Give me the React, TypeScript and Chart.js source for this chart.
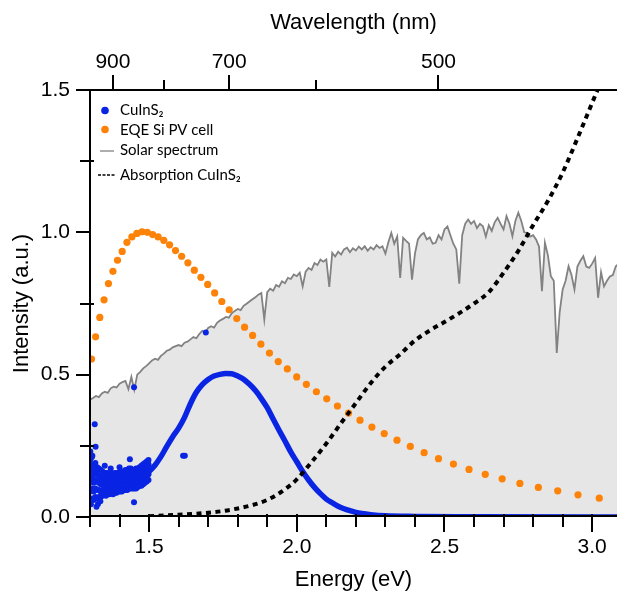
import React, { useEffect, useRef } from 'react';
import { Chart, registerables } from 'chart.js';

Chart.register(...registerables);

// ---------------- data ----------------
const HC = 1239.84; // eV·nm, energy <-> wavelength

// Solar spectrum [energy eV, intensity]
const solarSpectrum: [number, number][] = [
  [1.30, 0.412], [1.31, 0.418], [1.32, 0.425], [1.33, 0.421], [1.34, 0.434], [1.35, 0.440], [1.36, 0.436], [1.37, 0.452],
  [1.38, 0.458], [1.39, 0.455], [1.40, 0.468], [1.41, 0.474], [1.42, 0.478], [1.43, 0.449], [1.44, 0.492], [1.45, 0.447],
  [1.46, 0.500], [1.47, 0.510], [1.48, 0.522], [1.49, 0.530], [1.50, 0.540], [1.51, 0.550], [1.52, 0.556], [1.53, 0.552],
  [1.54, 0.566], [1.55, 0.574], [1.56, 0.584], [1.57, 0.588], [1.58, 0.596], [1.59, 0.600], [1.60, 0.604], [1.61, 0.600],
  [1.62, 0.612], [1.63, 0.616], [1.64, 0.624], [1.65, 0.632], [1.66, 0.628], [1.67, 0.643], [1.68, 0.654], [1.69, 0.648],
  [1.70, 0.664], [1.71, 0.670], [1.72, 0.665], [1.73, 0.682], [1.74, 0.690], [1.75, 0.696], [1.76, 0.703], [1.77, 0.700],
  [1.78, 0.716], [1.79, 0.724], [1.80, 0.731], [1.81, 0.727], [1.82, 0.742], [1.83, 0.749], [1.84, 0.757], [1.85, 0.765],
  [1.86, 0.772], [1.87, 0.781], [1.88, 0.787], [1.89, 0.694], [1.90, 0.790], [1.91, 0.802], [1.92, 0.795], [1.93, 0.815],
  [1.94, 0.809], [1.95, 0.828], [1.96, 0.821], [1.97, 0.840], [1.98, 0.836], [1.99, 0.852], [2.00, 0.846], [2.01, 0.858],
  [2.02, 0.810], [2.03, 0.862], [2.04, 0.875], [2.05, 0.868], [2.06, 0.892], [2.07, 0.885], [2.08, 0.904], [2.09, 0.897],
  [2.10, 0.905], [2.11, 0.808], [2.12, 0.928], [2.13, 0.915], [2.14, 0.932], [2.15, 0.922], [2.16, 0.940], [2.17, 0.946],
  [2.18, 0.930], [2.19, 0.944], [2.20, 0.936], [2.21, 0.950], [2.22, 0.940], [2.23, 0.951], [2.24, 0.935], [2.25, 0.948],
  [2.26, 0.940], [2.27, 0.955], [2.28, 0.945], [2.29, 0.951], [2.30, 0.925], [2.31, 0.965], [2.32, 0.998], [2.33, 0.960],
  [2.34, 0.985], [2.35, 0.840], [2.36, 0.981], [2.37, 0.970], [2.38, 0.960], [2.39, 0.834], [2.40, 0.925], [2.41, 0.975],
  [2.42, 0.990], [2.43, 0.998], [2.44, 0.975], [2.45, 0.982], [2.46, 0.960], [2.47, 0.963], [2.48, 0.990], [2.49, 0.975],
  [2.50, 1.010], [2.51, 1.021], [2.52, 0.990], [2.53, 0.960], [2.54, 0.940], [2.55, 0.820], [2.56, 0.990], [2.57, 1.030],
  [2.58, 1.045], [2.59, 1.030], [2.60, 1.040], [2.61, 1.015], [2.62, 1.030], [2.63, 1.021], [2.64, 0.985], [2.65, 1.025],
  [2.66, 1.005], [2.67, 1.035], [2.68, 1.051], [2.69, 1.030], [2.70, 1.010], [2.71, 1.057], [2.72, 1.030], [2.73, 0.986],
  [2.74, 1.040], [2.75, 1.069], [2.76, 1.040], [2.77, 1.000], [2.78, 0.998], [2.79, 0.985], [2.80, 0.990], [2.81, 0.975],
  [2.82, 0.950], [2.83, 0.793], [2.84, 0.963], [2.85, 0.920], [2.86, 0.846], [2.87, 0.830], [2.88, 0.576], [2.89, 0.720],
  [2.90, 0.799], [2.91, 0.830], [2.92, 0.881], [2.93, 0.850], [2.94, 0.799], [2.95, 0.880], [2.96, 0.900], [2.97, 0.916],
  [2.98, 0.880], [2.99, 0.875], [3.00, 0.890], [3.01, 0.910], [3.02, 0.770], [3.03, 0.860], [3.04, 0.810], [3.05, 0.830],
  [3.06, 0.845], [3.07, 0.850], [3.08, 0.881], [3.09, 0.890],
];

// CuInS2 photoluminescence, dense main band [energy eV, intensity]
const cuinsCurve: [number, number][] = [
  [1.48, 0.142], [1.50, 0.160], [1.52, 0.182], [1.54, 0.212], [1.56, 0.248], [1.58, 0.282],
  [1.60, 0.312], [1.62, 0.350], [1.64, 0.398], [1.66, 0.438], [1.68, 0.465], [1.70, 0.483], [1.72, 0.495], [1.74, 0.501],
  [1.76, 0.504], [1.78, 0.503], [1.80, 0.495], [1.82, 0.484], [1.84, 0.466], [1.86, 0.444], [1.88, 0.416], [1.90, 0.384],
  [1.92, 0.344], [1.94, 0.305], [1.96, 0.267], [1.98, 0.228], [2.00, 0.194], [2.02, 0.160], [2.04, 0.130], [2.06, 0.104],
  [2.08, 0.082], [2.10, 0.063], [2.12, 0.050], [2.14, 0.038], [2.16, 0.029], [2.18, 0.022], [2.20, 0.016], [2.22, 0.012],
  [2.25, 0.008], [2.30, 0.004], [2.40, 0.002], [2.60, 0.001], [3.09, 0.000],
];

// CuInS2 noisy low-energy band: energy columns and the intensities measured in each
const cuinsNoiseEnergy = [
  1.300, 1.306, 1.312, 1.318, 1.324, 1.330, 1.336, 1.342, 1.348, 1.354, 1.360, 1.366, 1.372, 1.378, 1.384, 1.390, 1.396,
  1.402, 1.408, 1.414, 1.420, 1.426, 1.432, 1.438, 1.444, 1.450, 1.456, 1.462, 1.468, 1.474, 1.480, 1.486, 1.492, 1.498,
];
const cuinsNoiseValue: number[][] = [
  [0.055, 0.09, 0.125, 0.16, 0.20], [0.065, 0.10, 0.135, 0.17, 0.21], [0.06, 0.09, 0.12, 0.15, 0.185],
  [0.07, 0.10, 0.13, 0.16, 0.19], [0.065, 0.095, 0.125, 0.15, 0.175], [0.07, 0.095, 0.12, 0.145, 0.17],
  [0.07, 0.09, 0.115, 0.14, 0.165], [0.075, 0.095, 0.12, 0.14, 0.16], [0.08, 0.10, 0.12, 0.14, 0.155],
  [0.075, 0.095, 0.115, 0.135, 0.155], [0.08, 0.10, 0.12, 0.14, 0.155], [0.08, 0.10, 0.12, 0.135, 0.15],
  [0.085, 0.105, 0.12, 0.14, 0.155], [0.08, 0.10, 0.12, 0.135, 0.15], [0.085, 0.105, 0.12, 0.14, 0.155],
  [0.085, 0.10, 0.12, 0.14, 0.155], [0.09, 0.105, 0.125, 0.14, 0.155], [0.09, 0.11, 0.125, 0.14, 0.16],
  [0.09, 0.11, 0.13, 0.145, 0.16], [0.095, 0.11, 0.13, 0.145, 0.16], [0.095, 0.115, 0.13, 0.15, 0.165],
  [0.095, 0.115, 0.13, 0.15, 0.165], [0.10, 0.115, 0.135, 0.15, 0.17], [0.10, 0.12, 0.135, 0.155, 0.17],
  [0.10, 0.115, 0.13, 0.15, 0.165], [0.10, 0.115, 0.13, 0.15, 0.165], [0.10, 0.12, 0.135, 0.15, 0.17],
  [0.105, 0.12, 0.14, 0.155, 0.17], [0.11, 0.125, 0.14, 0.16, 0.175], [0.11, 0.13, 0.145, 0.16, 0.18],
  [0.115, 0.13, 0.15, 0.165, 0.185], [0.12, 0.135, 0.155, 0.17, 0.19], [0.125, 0.14, 0.16, 0.175, 0.195],
  [0.13, 0.15, 0.165, 0.185, 0.20],
];

// CuInS2 isolated outlier points [energy eV, intensity]
const cuinsOutliers: [number, number][] = [
  [1.301, 0.23], [1.303, 0.045], [1.308, 0.215], [1.316, 0.326], [1.319, 0.247], [1.322, 0.036], [1.327, 0.046],
  [1.335, 0.055], [1.350, 0.18], [1.370, 0.17], [1.400, 0.175], [1.435, 0.203], [1.449, 0.052], [1.449, 0.456],
  [1.615, 0.215], [1.621, 0.215], [1.692, 0.648],
];

// EQE of Si PV cell, sampled every 10 nm
const eqeWavelength = [
  950, 940, 930, 920, 910, 900, 890, 880, 870, 860, 850, 840, 830, 820, 810, 800, 790, 780, 770, 760,
  750, 740, 730, 720, 710, 700, 690, 680, 670, 660, 650, 640, 630, 620, 610, 600, 590, 580, 570, 560,
  550, 540, 530, 520, 510, 500, 490, 480, 470, 460, 450, 440, 430, 420, 410,
];
const eqeValue = [
  0.555, 0.633, 0.701, 0.763, 0.820, 0.863, 0.902, 0.933, 0.965, 0.984, 0.996, 1.002, 1.000, 0.992, 0.984, 0.972, 0.956, 0.936, 0.916, 0.893,
  0.867, 0.842, 0.817, 0.787, 0.757, 0.728, 0.697, 0.667, 0.638, 0.607, 0.576, 0.546, 0.520, 0.492, 0.466, 0.440, 0.415, 0.390, 0.365, 0.340,
  0.316, 0.293, 0.270, 0.248, 0.226, 0.205, 0.186, 0.167, 0.150, 0.134, 0.118, 0.104, 0.092, 0.078, 0.066,
];

// Absorption of CuInS2 [energy eV, absorbance]
const absorption: [number, number][] = [
  [1.50, 0.003], [1.55, 0.005], [1.60, 0.008], [1.65, 0.011], [1.70, 0.015], [1.75, 0.021], [1.80, 0.030], [1.85, 0.042],
  [1.90, 0.060], [1.95, 0.090], [2.00, 0.132], [2.05, 0.193], [2.10, 0.258], [2.15, 0.330], [2.20, 0.400], [2.25, 0.470],
  [2.30, 0.528], [2.35, 0.572], [2.40, 0.620], [2.45, 0.655], [2.50, 0.685], [2.55, 0.716], [2.60, 0.750], [2.65, 0.790],
  [2.70, 0.858], [2.75, 0.935], [2.80, 1.025], [2.85, 1.110], [2.90, 1.210], [2.95, 1.330], [3.00, 1.455], [3.05, 1.580],
];

// axes
const energyRange = [1.3, 3.084];
const intensityRange = [0, 1.5];
const energyTicks = [1.3, 1.4, 1.5, 1.6, 1.7, 1.8, 1.9, 2.0, 2.1, 2.2, 2.3, 2.4, 2.5, 2.6, 2.7, 2.8, 2.9, 3.0];
const energyLabeled = [1.5, 2.0, 2.5, 3.0];
const wavelengthTicks = [900, 800, 700, 600, 500];
const wavelengthLabeled = [900, 700, 500];
const intensityTicks = [0, 0.25, 0.5, 0.75, 1.0, 1.25, 1.5];
const intensityLabeled = [0, 0.5, 1.0, 1.5];

const seriesNames = ['CuInS₂', 'EQE Si PV cell', 'Solar spectrum', 'Absorption CuInS₂'];
const axisTitles = { x: 'Energy (eV)', xTop: 'Wavelength (nm)', y: 'Intensity (a.u.)' };

// ---------------- styles ----------------
const BLUE = '#0a24e4';
const ORANGE = '#fd8208';
const GRAY = '#828282';
const FILL = '#e6e6e6';
const AXIS_FONT = '"Liberation Sans", Arial, sans-serif';
const LEGEND_FONT = 'Lato, "Liberation Sans", sans-serif';

const near = (a: number, list: number[]) => list.some((b) => Math.abs(a - b) < 1e-6);

const fitWidth = (w: number) => (s: any) => {
  s.width = w; s.paddingTop = 0; s.paddingBottom = 0; s.paddingLeft = 0; s.paddingRight = 0;
};
const fitHeight = (h: number) => (s: any) => {
  s.height = h; s.paddingTop = 0; s.paddingBottom = 0; s.paddingLeft = 0; s.paddingRight = 0;
};

const axesPlugin = {
  id: 'axesTicks',
  afterDatasetsDraw(chart: any) {
    const { ctx, chartArea, scales } = chart;
    const L = chartArea.left, T = chartArea.top, B = chartArea.bottom, R = chartArea.right;
    ctx.save();
    ctx.strokeStyle = '#000';
    ctx.lineWidth = 2;
    ctx.lineCap = 'butt';
    const seg = (x1: number, y1: number, x2: number, y2: number) => {
      ctx.beginPath(); ctx.moveTo(x1, y1); ctx.lineTo(x2, y2); ctx.stroke();
    };
    // axis lines
    seg(L, T - 1, L, B);
    seg(L - 6, T, R, T);
    seg(L - 1, B - 1, R, B - 1);
    // bottom ticks
    energyTicks.forEach((e) => {
      const px = Math.round(scales.x.getPixelForValue(e));
      seg(px, B - 3, px, B + (near(e, energyLabeled) ? 15 : 10));
    });
    // top ticks
    wavelengthTicks.forEach((w) => {
      const px = Math.round(scales.xTop.getPixelForValue(HC / w));
      seg(px, T + 1, px, T - (near(w, wavelengthLabeled) ? 15 : 10));
    });
    // left ticks
    intensityTicks.forEach((v) => {
      const py = Math.round(scales.y.getPixelForValue(v));
      if (near(v, intensityLabeled)) seg(L - 14, py, L, py);
      else seg(L - 10, py, L + 4, py);
    });
    ctx.restore();
  },
  afterDraw(chart: any) {
    const { ctx } = chart;
    ctx.save();
    ctx.font = `15px ${LEGEND_FONT}`;
    ctx.textAlign = 'left';
    ctx.textBaseline = 'alphabetic';
    const baselines = [115, 134.5, 155, 180];
    const mid = [110.5, 129.5, 151, 175];
    const tx = 120;
    ctx.fillStyle = BLUE;
    ctx.beginPath(); ctx.arc(105, mid[0], 3.8, 0, Math.PI * 2); ctx.fill();
    ctx.fillStyle = ORANGE;
    ctx.beginPath(); ctx.arc(105, mid[1], 3.8, 0, Math.PI * 2); ctx.fill();
    ctx.strokeStyle = GRAY; ctx.lineWidth = 1.3;
    ctx.beginPath(); ctx.moveTo(100, mid[2]); ctx.lineTo(114, mid[2]); ctx.stroke();
    ctx.strokeStyle = '#000'; ctx.lineWidth = 1.3; ctx.setLineDash([3, 1.5]);
    ctx.beginPath(); ctx.moveTo(98, mid[3]); ctx.lineTo(115, mid[3]); ctx.stroke();
    ctx.setLineDash([]);
    ctx.fillStyle = '#000';
    seriesNames.forEach((name, i) => ctx.fillText(name, tx, baselines[i]));
    ctx.restore();
  },
};

export default function App() {
  const canvasRef = useRef<HTMLCanvasElement | null>(null);

  useEffect(() => {
    if (!canvasRef.current) return;
    const toXY = (arr: [number, number][]) => arr.map(([x, y]) => ({ x, y }));
    const eqePoints = eqeWavelength.map((w, i) => ({ x: HC / w, y: eqeValue[i] }));
    const noisePoints: { x: number; y: number }[] = [];
    cuinsNoiseEnergy.forEach((e, i) => cuinsNoiseValue[i].forEach((v) => noisePoints.push({ x: e, y: v })));
    const cuinsPoints = noisePoints.concat(toXY(cuinsOutliers));

    const chart = new Chart(canvasRef.current, {
      type: 'line',
      data: {
        datasets: [
          {
            type: 'line',
            label: seriesNames[3],
            data: toXY(absorption),
            borderColor: '#000',
            borderWidth: 4,
            borderDash: [5, 4.5],
            borderCapStyle: 'butt',
            pointRadius: 0,
            cubicInterpolationMode: 'monotone',
            fill: false,
            order: 1,
          },
          {
            type: 'scatter',
            label: seriesNames[1],
            data: eqePoints,
            backgroundColor: ORANGE,
            borderWidth: 0,
            pointRadius: 3.6,
            showLine: false,
            order: 2,
          },
          {
            type: 'line',
            label: seriesNames[0],
            data: toXY(cuinsCurve),
            borderColor: BLUE,
            borderWidth: 5.5,
            pointRadius: 0,
            cubicInterpolationMode: 'monotone',
            fill: false,
            order: 3,
          },
          {
            type: 'scatter',
            label: seriesNames[0] + ' points',
            data: cuinsPoints,
            backgroundColor: BLUE,
            borderWidth: 0,
            pointRadius: 3,
            showLine: false,
            order: 4,
          },
          {
            type: 'line',
            label: seriesNames[2],
            data: toXY(solarSpectrum),
            borderColor: GRAY,
            borderWidth: 1.8,
            pointRadius: 0,
            tension: 0,
            fill: 'origin',
            backgroundColor: FILL,
            order: 5,
          },
        ],
      },
      options: {
        responsive: false,
        animation: false,
        devicePixelRatio: 1,
        layout: { padding: 0, autoPadding: false },
        plugins: {
          legend: { display: false },
          tooltip: { enabled: false },
        },
        scales: {
          x: {
            type: 'linear',
            position: 'bottom',
            min: energyRange[0],
            max: energyRange[1],
            afterFit: fitHeight(77),
            afterBuildTicks: (s: any) => { s.ticks = energyLabeled.map((v) => ({ value: v })); },
            grid: { display: false, drawTicks: false },
            border: { display: false },
            ticks: {
              autoSkip: false,
              maxRotation: 0,
              padding: 18,
              color: '#000',
              font: { family: AXIS_FONT, size: 21 },
              callback: (v: any) => Number(v).toFixed(1),
            },
            title: {
              display: true,
              text: axisTitles.x,
              color: '#000',
              font: { family: AXIS_FONT, size: 22 },
              padding: { top: 0, bottom: 1 },
            },
          },
          xTop: {
            type: 'linear',
            position: 'top',
            axis: 'x',
            min: energyRange[0],
            max: energyRange[1],
            afterFit: fitHeight(90),
            afterBuildTicks: (s: any) => { s.ticks = wavelengthLabeled.map((w) => ({ value: HC / w })); },
            grid: { display: false, drawTicks: false },
            border: { display: false },
            ticks: {
              autoSkip: false,
              maxRotation: 0,
              padding: 15,
              color: '#000',
              font: { family: AXIS_FONT, size: 21 },
              callback: (v: any) => String(Math.round(HC / Number(v) / 10) * 10),
            },
            title: {
              display: true,
              text: axisTitles.xTop,
              color: '#000',
              font: { family: AXIS_FONT, size: 22 },
              padding: { top: 10, bottom: 0 },
            },
          },
          y: {
            type: 'linear',
            position: 'left',
            min: intensityRange[0],
            max: intensityRange[1],
            afterFit: fitWidth(90),
            afterBuildTicks: (s: any) => { s.ticks = intensityLabeled.map((v) => ({ value: v })); },
            grid: { display: false, drawTicks: false },
            border: { display: false },
            ticks: {
              autoSkip: false,
              padding: 20,
              color: '#000',
              font: { family: AXIS_FONT, size: 21 },
              callback: (v: any) => Number(v).toFixed(1),
            },
            title: {
              display: true,
              text: axisTitles.y,
              color: '#000',
              font: { family: AXIS_FONT, size: 22 },
              padding: { top: 9, bottom: 0 },
            },
          },
        },
      } as any,
      plugins: [axesPlugin],
    } as any);

    return () => chart.destroy();
  }, []);

  return (
    <div style={{ position: 'absolute', left: 0, top: 0, width: 617, height: 594, background: '#fff' }}>
      <canvas ref={canvasRef} width={617} height={594} style={{ display: 'block', width: 617, height: 594 }} />
    </div>
  );
}
